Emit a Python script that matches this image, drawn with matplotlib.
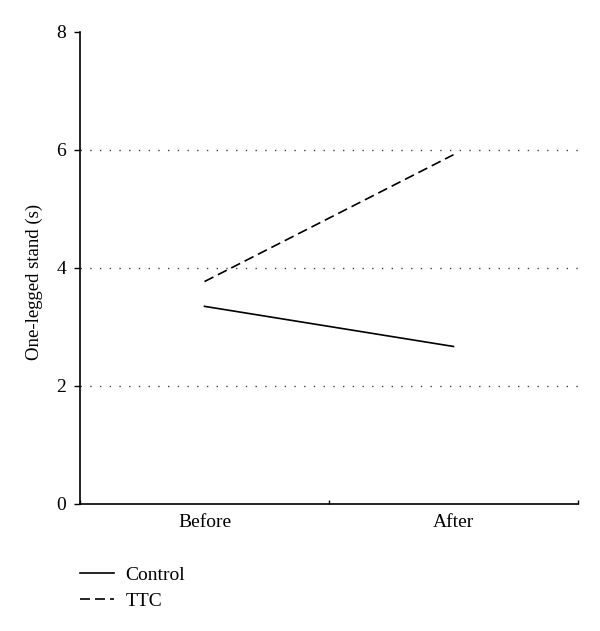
import matplotlib
matplotlib.use("Agg")
import matplotlib.pyplot as plt

categories = ["Before", "After"]
control = [3.35, 2.67]
ttc = [3.77, 5.92]
yticks = [0, 2, 4, 6, 8]

plt.rcParams['font.family'] = ['Liberation Serif', 'DejaVu Serif']
fig = plt.figure(figsize=(6, 6.31), dpi=100)
ax = fig.add_axes([80/600, 1-504/631, 498/600, (504-32)/631])

x = list(range(len(categories)))
ax.plot(x, control, color='black', lw=1.2, label='Control')
ax.plot(x, ttc, color='black', lw=1.2, linestyle=(0, (6, 3)), label='TTC')

for g in [2, 4, 6]:
    ax.axhline(g, color='#444444', lw=1.0, linestyle=(0, (1, 6)), zorder=0)

ax.set_xlim(-0.5, 1.5)
ax.set_ylim(0, 8)
ax.set_yticks(yticks)
ax.set_xticks(x)
ax.set_xticklabels(categories)
ax.set_xticks([-0.5, 0.5, 1.5], minor=True)
ax.tick_params(axis='x', which='major', length=0, labelsize=14, pad=7)
ax.tick_params(axis='x', which='minor', direction='in', length=3, width=1)
ax.tick_params(axis='y', direction='out', length=4, width=1, labelsize=14, pad=6)
for s in ['top', 'right']:
    ax.spines[s].set_visible(False)
for s in ['left', 'bottom']:
    ax.spines[s].set_linewidth(1.2)
ax.set_ylabel("One-legged stand (s)", fontsize=13.5)
ax.yaxis.set_label_coords(-0.074, 0.47)

fig.legend(loc='upper left', bbox_to_anchor=(0.117, 0.118), frameon=False,
           fontsize=14, handlelength=1.75, handletextpad=0.6, labelspacing=0.45,
           borderpad=0)
fig.savefig("out.png", dpi=100)
